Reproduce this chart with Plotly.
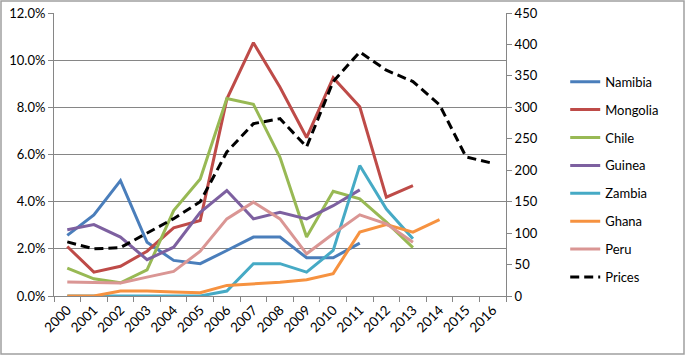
import plotly.graph_objects as go

years = [str(y) for y in range(2000, 2017)]

namibia  = [2.57, 3.44, 4.89, 2.28, 1.51, 1.37, 1.93, 2.50, 2.50, 1.62, 1.62, 2.24, None, None, None, None, None]
mongolia = [2.10, 1.01, 1.26, 1.90, 2.89, 3.20, 8.35, 10.74, 8.85, 6.72, 9.26, 8.02, 4.19, 4.68, None, None, None]
chile    = [1.18, 0.73, 0.56, 1.11, 3.62, 4.96, 8.37, 8.13, 5.88, 2.50, 4.44, 4.12, 3.13, 2.05, None, None, None]
guinea   = [2.81, 3.03, 2.50, 1.54, 2.07, 3.55, 4.47, 3.27, 3.55, 3.27, 3.83, 4.50, None, None, None, None, None]
zambia   = [0.00, 0.00, 0.00, 0.00, 0.00, 0.00, 0.21, 1.37, 1.37, 1.01, 1.93, 5.53, 3.69, 2.43, None, None, None]
ghana    = [0.00, 0.00, 0.21, 0.21, 0.17, 0.14, 0.45, 0.52, 0.58, 0.69, 0.95, 2.71, 3.03, 2.71, 3.24, None, None]
peru     = [0.59, 0.58, 0.55, 0.80, 1.04, 1.90, 3.27, 3.98, 3.27, 1.79, 2.64, 3.44, 3.06, 2.28, None, None, None]
prices   = [86, 75, 77, 100, 123, 150, 229, 274, 282, 237, 341, 388, 359, 341, 304, 221, 211]

series = [
    ("Namibia", namibia, "#4A7EBB"),
    ("Mongolia", mongolia, "#BE4B48"),
    ("Chile", chile, "#98B954"),
    ("Guinea", guinea, "#7D60A0"),
    ("Zambia", zambia, "#46AAC5"),
    ("Ghana", ghana, "#F69240"),
    ("Peru", peru, "#DA9694"),
]

fig = go.Figure()
for name, vals, col in series:
    fig.add_trace(go.Scatter(
        x=years, y=[v / 100 if v is not None else None for v in vals],
        name=name, mode="lines", line=dict(color=col, width=3),
        legendgroup=name, connectgaps=False))

fig.add_trace(go.Scatter(
    x=years, y=prices, name="Prices", mode="lines", yaxis="y2",
    line=dict(color="black", width=3, dash="9px,5px"), legendgroup="Prices"))

font = dict(family="Lato, 'Open Sans', sans-serif", size=13, color="black")

fig.update_layout(
    width=685, height=355,
    margin=dict(l=54, r=179, t=13, b=59, autoexpand=False),
    paper_bgcolor="white", plot_bgcolor="white",
    font=font,
    showlegend=True,
    legend=dict(x=1.131, y=0.81, xanchor="left", yanchor="top",
                tracegroupgap=8, font=dict(size=13), itemwidth=30,
                bgcolor="rgba(0,0,0,0)"),
    xaxis=dict(type="category", tickangle=-45, tickson="boundaries",
               ticks="outside", ticklen=5, tickcolor="#868686",
               showline=True, linecolor="#868686", linewidth=1,
               showgrid=False, range=[-0.5, 16.5],
               tickfont=dict(family=font["family"], size=13.5, color="black"),
               automargin=False),
    yaxis=dict(range=[0, 0.12], dtick=0.02, tickformat=".1%",
               showgrid=True, gridcolor="#868686", gridwidth=1,
               showline=True, linecolor="#868686", ticks="outside",
               ticklen=5, tickcolor="#868686", zeroline=False, tickfont=font,
               automargin=False),
    yaxis2=dict(range=[0, 450], dtick=50, overlaying="y", side="right",
                showgrid=False, showline=True, linecolor="#868686",
                ticks="outside", ticklen=5, tickcolor="#868686",
                zeroline=False, tickfont=font, automargin=False),
    shapes=[dict(type="rect", xref="paper", yref="paper",
                 x0=-53/452, x1=(685-54-1)/452, y0=-58/283, y1=(283+12)/283,
                 line=dict(color="#a0a0a0", width=1.5), layer="below")],
)

fig.write_html("out.html", config={"displayModeBar": False},
               post_script="document.body.style.margin='0px';document.body.style.overflow='hidden';")
